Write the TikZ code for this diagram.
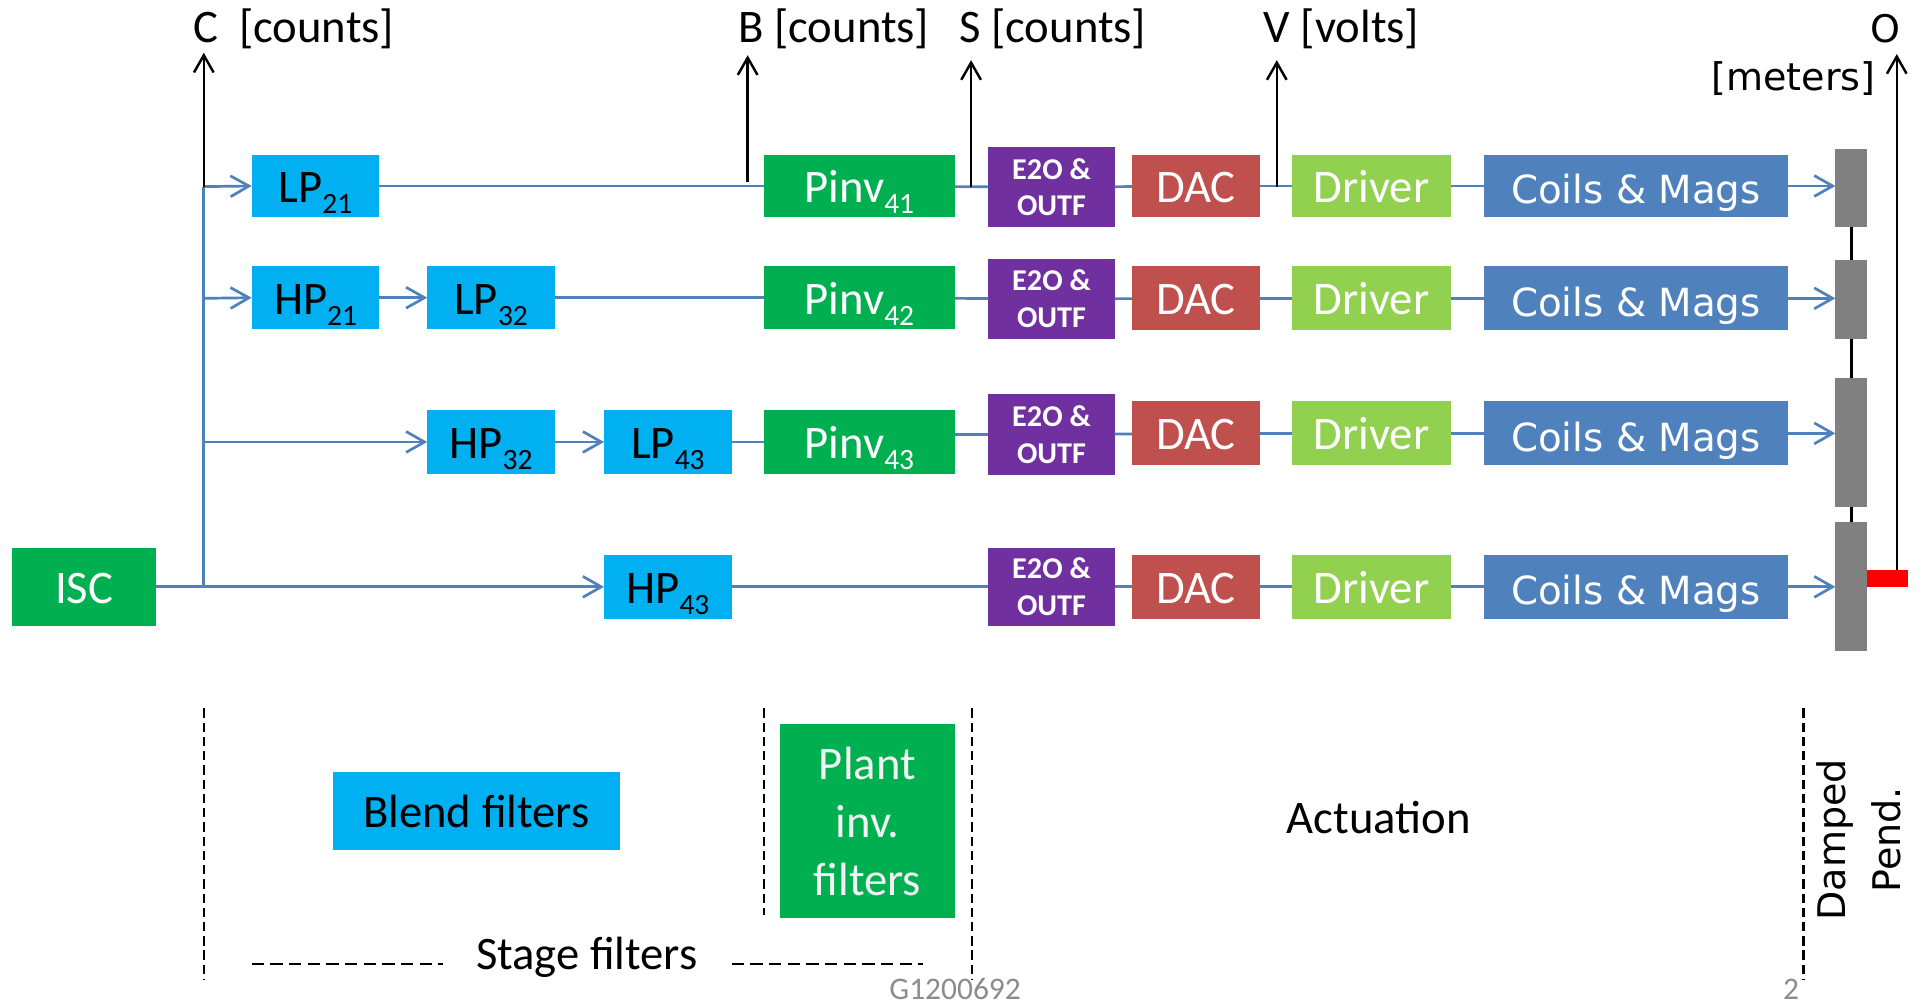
\documentclass[tikz,border=0pt]{standalone}
\usepackage{fontspec}
\setmainfont{Carlito}
\newfontfamily\verd{DejaVu Sans}
\usetikzlibrary{arrows.meta,calc}
\definecolor{cLB}{HTML}{00B0F0}
\definecolor{cGreen}{HTML}{00B050}
\definecolor{cPurple}{HTML}{7030A0}
\definecolor{cRed}{HTML}{C0504D}
\definecolor{cLG}{HTML}{92D050}
\definecolor{cCoil}{HTML}{4F81BD}
\definecolor{cGray}{HTML}{808080}
\definecolor{cBlue}{HTML}{4F81BD}
\definecolor{cFoot}{HTML}{8C8C8C}
\definecolor{cPlant}{HTML}{F2F2F2}
\newcommand\sbs[1]{\raisebox{-4.5pt}{\fontsize{12pt}{12pt}\selectfont #1}}
\newcommand\bx[7]{\node[#6, minimum width={(#4-#2)*0.5pt}, minimum height={(#5-#3)*0.5pt}] (#1) at ({(#2+#4)/2},{(#3+#5)/2}) {#7};}
\tikzset{
 bx/.style={inner sep=0pt, outer sep=0pt, draw=none, font=\fontsize{19pt}{23pt}\selectfont, align=center},
 one/.style={text height=18pt, text depth=4.5pt},
 lb/.style={bx, one, fill=cLB, text=black},
 pinv/.style={bx, one, fill=cGreen, text=white},
 plantst/.style={bx, fill=cGreen, text=cPlant, font=\fontsize{19pt}{23.5pt}\selectfont},
 eo/.style={bx, fill=cPurple, text=white, font=\bfseries\fontsize{12.3pt}{15pt}\selectfont},
 dac/.style={bx, one, fill=cRed, text=white},
 drv/.style={bx, one, fill=cLG, text=white},
 coil/.style={bx, fill=cCoil, text=white, font=\verd\fontsize{15.8pt}{19pt}\selectfont, text height=18.5pt, text depth=4pt},
 mass/.style={bx, fill=cGray},
 redbar/.style={bx, fill=red},
 conn/.style={draw=cBlue, line width=1.1pt},
 carr/.style={conn, -{Straight Barb[length=7.5pt,width=8.5pt,line width=1.1pt]}},
 sig/.style={draw=black, line width=1pt, -{Straight Barb[length=7pt,width=8pt,line width=1pt]}},
 link/.style={draw=black, line width=1.3pt},
 vsep/.style={draw=black, line width=0.9pt, dash pattern=on 3.8pt off 2pt},
 hsep/.style={draw=black, line width=0.8pt, dash pattern=on 5pt off 2.6pt},
 lbl/.style={font=\fontsize{19pt}{23pt}\selectfont, inner sep=0pt},
 vlbl/.style={font=\verd\fontsize{15.5pt}{19pt}\selectfont, inner sep=0pt},
 foot/.style={font=\fontsize{12.8pt}{14pt}\selectfont, text=cFoot, anchor=base, inner sep=0pt},
}
\begin{document}
\begin{tikzpicture}[x=0.5pt,y=-0.5pt]
\useasboundingbox[fill=white] (0,0) rectangle (1568,819);

% row 1
\bx{LPa}{205}{126}{309}{177}{lb}{LP\sbs{21}}
\bx{Pa}{622}{126}{778}{177}{pinv}{Pinv\sbs{41}}
\bx{Ea}{805}{120}{908}{185}{eo}{E2O \&\\OUTF}
\bx{Da}{922}{126}{1026}{177}{dac}{DAC}
\bx{Ra}{1052}{126}{1182}{177}{drv}{Driver}
\bx{Ca}{1209}{126}{1456}{177}{coil}{Coils \& Mags}
\bx{Ma}{1495}{121}{1521}{185}{mass}{}
% row 2
\bx{HPb}{205}{217}{309}{268}{lb}{HP\sbs{21}}
\bx{LPb}{348}{217}{452}{268}{lb}{LP\sbs{32}}
\bx{Pb}{622}{217}{778}{268}{pinv}{Pinv\sbs{42}}
\bx{Eb}{805}{211}{908}{276}{eo}{E2O \&\\OUTF}
\bx{Db}{922}{217}{1026}{269}{dac}{DAC}
\bx{Rb}{1052}{217}{1182}{269}{drv}{Driver}
\bx{Cb}{1209}{217}{1456}{269}{coil}{Coils \& Mags}
\bx{Mb}{1495}{212}{1521}{276}{mass}{}
% row 3
\bx{HPc}{348}{334}{452}{386}{lb}{HP\sbs{32}}
\bx{LPc}{492}{334}{596}{386}{lb}{LP\sbs{43}}
\bx{Pc}{622}{334}{778}{386}{pinv}{Pinv\sbs{43}}
\bx{Ec}{805}{321}{908}{387}{eo}{E2O \&\\OUTF}
\bx{Dc}{922}{327}{1026}{379}{dac}{DAC}
\bx{Rc}{1052}{327}{1182}{379}{drv}{Driver}
\bx{Cc}{1209}{327}{1456}{379}{coil}{Coils \& Mags}
\bx{Mc}{1495}{308}{1521}{413}{mass}{}
% row 4
\bx{ISC}{10}{446}{127}{510}{pinv}{ISC}
\bx{HPd}{492}{452}{596}{504}{lb}{HP\sbs{43}}
\bx{Ed}{805}{446}{908}{510}{eo}{E2O \&\\OUTF}
\bx{Dd}{922}{452}{1026}{504}{dac}{DAC}
\bx{Rd}{1052}{452}{1182}{504}{drv}{Driver}
\bx{Cd}{1209}{452}{1456}{504}{coil}{Coils \& Mags}
\bx{Md}{1495}{425}{1521}{530}{mass}{}
\bx{red}{1521}{464}{1554}{478}{redbar}{}

% blend network
\coordinate (j0) at (166,478);
\coordinate (j1) at (166,152);
\coordinate (j2) at (166,243);
\coordinate (j3) at (166,360);
\draw[conn] (j0) -- (j1);
\draw[carr] (ISC.east) -- (HPd.west);
\draw[carr] (j1) -- (LPa.west);
\draw[carr] (j2) -- (HPb.west);
\draw[carr] (j3) -- (HPc.west);
\draw[carr] (HPb) -- (LPb);
\draw[carr] (HPc) -- (LPc);
\draw[conn] (LPa) -- (Pa);
\draw[conn] (LPb) -- (Pb);
\draw[conn] (LPc) -- (Pc);
\draw[conn] (HPd) -- (Ed);
\draw[conn] (Pa) -- (Ea);
\draw[conn] (Pb) -- (Eb);
\draw[conn] (Pc.east |- Ec.west) -- (Ec.west);
\foreach \r in {a,b,c,d}{
  \draw[conn] (E\r) -- (D\r);
  \draw[conn] (D\r) -- (R\r);
  \draw[conn] (R\r) -- (C\r);
  \draw[carr] (C\r.east) -- (C\r.east -| M\r.west);
}
\draw[link] (Ma.south) -- (Mb.north);
\draw[link] (Mb.south) -- (Mc.north);
\draw[link] (Mc.south) -- (Md.north);

% signal outputs
\coordinate (cT) at (166,43);
\coordinate (bB) at (609,148);
\coordinate (bT) at (609,45);
\coordinate (sB) at (791,152);
\coordinate (sT) at (791,49);
\coordinate (vB) at (1040,152);
\coordinate (vT) at (1040,49);
\coordinate (oB) at (1545,464);
\coordinate (oT) at (1545,44);
\draw[sig] (j1) -- (cT);
\draw[sig] (bB) -- (bT);
\draw[sig] (sB) -- (sT);
\draw[sig] (vB) -- (vT);
\draw[sig] (oB) -- (oT);

\node[lbl, anchor=base west] (lC) at (157,35) {C\ \ [counts]};
\node[lbl, anchor=base west] (lB) at (601,35) {B [counts]};
\node[lbl, anchor=base west] (lS) at (781,35) {S [counts]};
\node[lbl, anchor=base west] (lV) at (1029,35) {V [volts]};
\node[vlbl, anchor=base] (lO) at (1536,35) {O};
\node[vlbl, anchor=base east] (lM) at (1528,74) {[meters]};

% bottom legend
\bx{blend}{271}{629}{505}{692}{lb}{Blend filters}
\bx{plant}{635}{590}{778}{748}{plantst}{Plant\\inv.\\filters}
\draw[vsep] (166,577) -- (166,798);
\draw[vsep] (622,577) -- (622,745);
\draw[vsep] (792,577) -- (792,798);
\draw[vsep] (1469,577) -- (1469,798);
\draw[hsep] (205,785) -- (361,785);
\draw[hsep] (596,785) -- (752,785);
\node[lbl, anchor=base] (stage) at (478,790) {Stage filters};
\node[lbl, anchor=base] (act) at (1123,679) {Actuation};
\node[font=\verd\fontsize{15.5pt}{22.5pt}\selectfont, rotate=90, align=center, inner sep=0pt] (damp) at (1514,684) {Damped\\Pend.};
\node[foot] (doc) at (778,814) {G1200692};
\node[foot] (pg) at (1459,814) {2};
\end{tikzpicture}
\end{document}
